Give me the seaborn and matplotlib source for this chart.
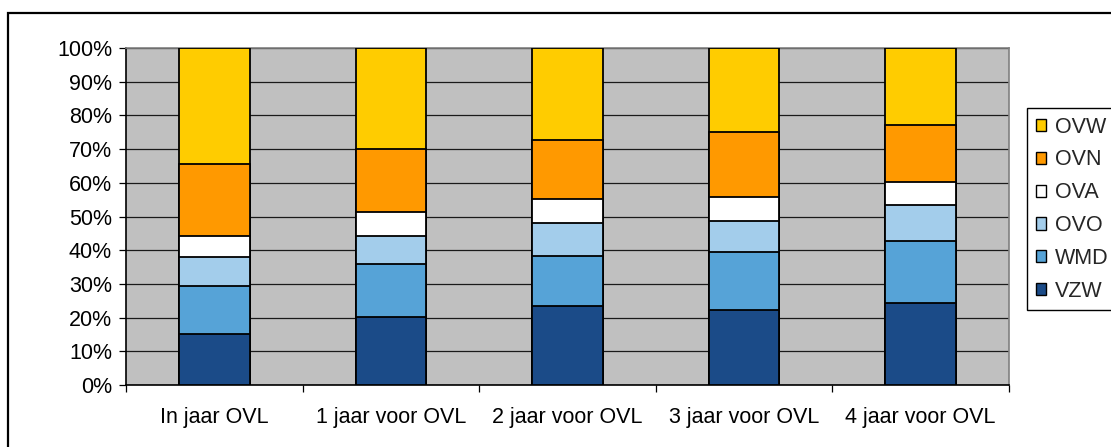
import numpy as np
import pandas as pd
import seaborn as sns
import matplotlib.pyplot as plt
from matplotlib.patches import Rectangle, Patch
from matplotlib.ticker import PercentFormatter, FixedLocator

# data (aandeel in %, van onder naar boven gestapeld)
categories = ["In jaar OVL", "1 jaar voor OVL", "2 jaar voor OVL", "3 jaar voor OVL", "4 jaar voor OVL"]
series = ["VZW", "WMD", "OVO", "OVA", "OVN", "OVW"]
vzw = [15.1, 20.3, 23.3, 22.3, 24.3]
wmd = [14.3, 15.6, 15.1, 17.2, 18.3]
ovo = [8.5, 8.2, 9.7, 9.1, 10.7]
ova = [6.3, 7.1, 7.2, 7.1, 6.9]
ovn = [21.3, 18.9, 17.3, 19.4, 17.0]
ovw = [34.5, 29.9, 27.4, 24.9, 22.8]
colors = ["#1B4B88", "#56A3D7", "#A3CDEB", "#FFFFFF", "#FF9900", "#FFCC00"]

df = pd.DataFrame(dict(zip(series, [vzw, wmd, ovo, ova, ovn, ovw])), index=categories)
cum = df.cumsum(axis=1)

sns.set_theme(style="white")
plt.rcParams["font.family"] = ["Liberation Sans", "DejaVu Sans"]

fig = plt.figure(figsize=(11.11, 4.47), dpi=100)
ax = fig.add_axes([126 / 1111, 1 - 385 / 447, 883 / 1111, 337 / 447])
ax.set_facecolor("#C0C0C0")

# outer chart border
fig.patches.append(Rectangle((8 / 1111, -0.05), 1.2, 1 - 13 / 447 + 0.05,
                             transform=fig.transFigure, fill=False,
                             edgecolor="black", linewidth=1.6, zorder=0))

# stacked bars: draw cumulative totals from top down
for s, c in reversed(list(zip(series, colors))):
    sns.barplot(x=categories, y=cum[s].values, color=c, width=0.4,
                edgecolor="black", linewidth=1.3, saturation=1, ax=ax, zorder=3)

ax.set_ylim(0, 100)
ax.set_xlim(-0.5, 4.5)
ax.yaxis.set_major_locator(FixedLocator(np.arange(0, 101, 10)))
ax.yaxis.set_major_formatter(PercentFormatter(decimals=0))
ax.grid(axis="y", color="#1a1a1a", linewidth=0.9, zorder=1)
ax.set_axisbelow(True)

ax.set_xticks(range(5))
ax.set_xticklabels(categories)
ax.xaxis.set_minor_locator(FixedLocator(np.arange(-0.5, 5, 1)))
ax.tick_params(axis="x", which="major", length=0, pad=16, labelsize=15.5)
ax.tick_params(axis="x", which="minor", length=5, width=0.9, color="black", direction="out", bottom=True)
ax.tick_params(axis="y", length=5, width=0.9, color="black", direction="out", pad=5, labelsize=15.5, left=True)
for lab in ax.get_xticklabels() + ax.get_yticklabels():
    lab.set_color("black")

ax.spines["left"].set_color("black")
ax.spines["bottom"].set_color("black")
ax.spines["top"].set_color("#808080")
ax.spines["right"].set_color("#808080")
for sp in ax.spines.values():
    sp.set_linewidth(1.2)
    sp.set_visible(True)
ax.set_xlabel("")
ax.set_ylabel("")

handles = [Patch(facecolor=c, edgecolor="black", linewidth=1.0) for c in colors][::-1]
leg = fig.legend(handles, series[::-1], loc="upper left",
                 bbox_to_anchor=(1027 / 1111, 1 - 108 / 447),
                 frameon=True, fancybox=False, framealpha=1, edgecolor="black",
                 fontsize=15.5, handlelength=0.5, handleheight=0.5,
                 handletextpad=0.4, labelspacing=0.55, borderpad=0.4,
                 borderaxespad=0)
leg.get_frame().set_linewidth(1.0)

fig.savefig("out.png", dpi=100)
